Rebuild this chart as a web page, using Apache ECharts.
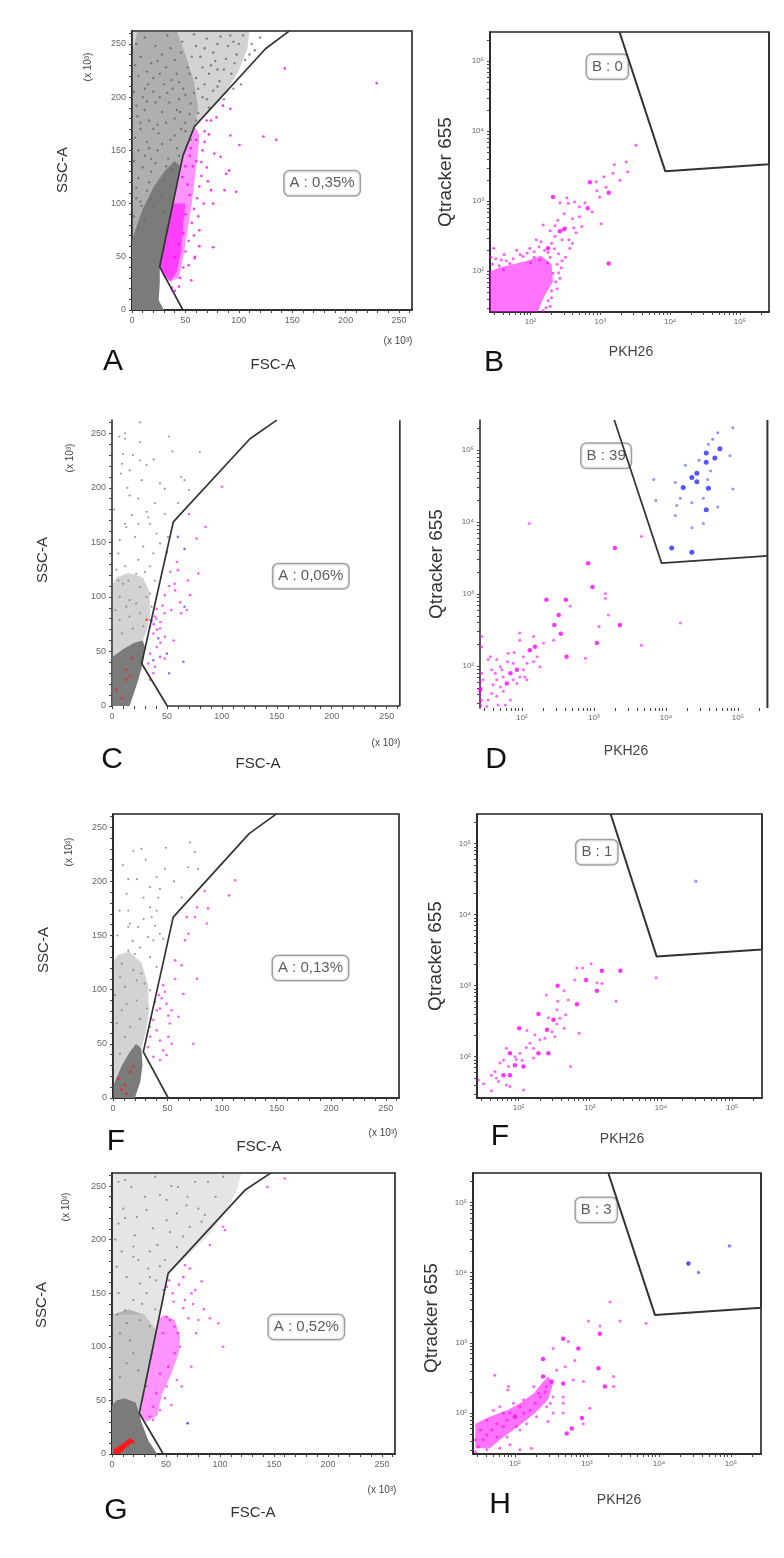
<!DOCTYPE html>
<html><head><meta charset="utf-8">
<script src="https://cdn.jsdelivr.net/npm/echarts@6/dist/echarts.min.js"></script>
<style>html,body{margin:0;padding:0;background:#fff}#c{width:784px;height:1558px}</style>
</head><body><div id="c"></div>
<script>
// ---------- axis ticks ----------
const linTicks = [0, 50, 100, 150, 200, 250];
const logTickExp = [2, 3, 4, 5];
const logTickLabels = ['10²', '10³', '10⁴', '10⁵'];
const LIN_MAX = 262.144, LOG_MIN = 1.418, LOG_MAX = 5.418;

// ---------- Panel A (FSC-A / SSC-A, x10^3) ----------
const aGrayOuter = [[0,0],[26,40],[47.7,145],[58.6,172.6],[88,205],[100,225],[108,245],[110,262],[0,262]];
const aGrayMid = [[0,60],[26,40],[47.7,145],[58.6,172.6],[62,190],[58,215],[50,240],[42,262],[5,262],[0,240]];
const aGrayCore = [[0,0],[30,0],[25,9],[26,25],[26,40],[30,60],[34,80],[38,100],[42,120],[45,135],[40,140],[30,130],[20,115],[10,95],[3,75],[0,65]];
const aGrayDots = [[4,250],[12,256],[22,248],[33,258],[47,252],[58,259],[70,255],[83,257],[95,252],[104,258],[112,250],[120,256],[8,238],[18,232],[28,240],[40,235],[52,228],[64,238],[76,242],[88,236],[98,240],[106,235],[6,220],[15,212],[26,222],[37,216],[48,208],[60,218],[72,222],[82,215],[93,222],[10,200],[22,195],[33,204],[44,198],[55,194],[66,200],[76,206],[86,198],[5,182],[16,178],[28,186],[40,180],[50,176],[62,185],[72,190],[3,162],[14,158],[25,166],[36,160],[46,170],[55,160],[2,140],[12,145],[24,150],[34,142],[42,152],[6,124],[18,130],[30,122],[4,105],[14,112],[2,88],[9,98],[60,248],[74,230],[90,248],[115,244],[102,212],[95,208],[80,226],[68,212],[58,204],[42,222],[30,212],[20,205],[12,188],[35,195],[45,186],[24,174],[8,170],[18,142],[38,132],[28,108],[20,98],[12,84],[6,76],
  [3,230],[14,224],[24,234],[36,246],[46,242],[56,238],[68,246],[80,250],[92,258],[100,250],[110,240],[2,205],[12,208],[20,218],[32,228],[44,214],[54,222],[66,228],[78,234],[86,226],[96,232],[4,192],[14,196],[26,200],[38,208],[50,202],[62,208],[70,198],[80,210],[8,176],[20,170],[32,176],[42,188],[54,184],[60,178],[6,150],[16,152],[28,156],[40,164],[50,168],[10,134],[22,138],[32,135],[44,145],[4,115],[16,120],[26,112],[36,118],[8,102],[18,104],[30,92]];
const aMagBand = [[26,40],[36,27],[44,30],[48,50],[52,75],[56,100],[59,125],[62,150],[63,165],[58.6,172.6],[47.7,145],[38.3,100],[32,70]];
const aMagDense = [[26,40],[30,30],[36,27],[42,36],[46,55],[48,80],[50,100],[38.3,100],[32,70]];
const aMagDots = [[143,227],[229,213],[123,163],[135,160],[100.6,155],[92,164],[92,189],[91,131],[88,128],[97.5,111],[86.6,112.6],[74,112.6],[76,100],[76,59],[58.6,48.5],[55.5,28],[63,75],[65,139],[83,144],[77,147],[79,181],[74,178],[45,30],[48,40],[50,55],[53,65],[56,82],[58,95],[61,105],[63,116],[65,126],[60,140],[66,150],[68,158],[60,160],[55,152],[57,135],[70,134],[71,121],[67,100],[62,88],[58,70],[63,60],[59,50],[53,42],[44,22],[40,18],[37,21],[70,178],[85,192],[68,168],[72,165],[52,118],[54,108],[50,90],[48,72],[44,62],[40,50],[47,125],[50,135],[54,145]];
const aGate = [[147,262],[125,245.5],[58.6,172.6],[47.7,145],[25.9,40.6],[47.7,0]];
const aTagPos = [178, 119];
const aTagText = 'A : 0,35%';

// ---------- Panel B (PKH26 / Qtracker 655, log10) ----------
const bMagCluster = [[1.418,1.418],[2.10,1.418],[2.20,1.65],[2.32,1.85],[2.30,2.10],[2.15,2.22],[1.95,2.15],[1.75,2.10],[1.55,2.05],[1.418,2.00]];
const bMagDots = [[3.51,3.80],[3.37,3.56],[3.20,3.52],[3.39,3.42],[3.28,3.30],[2.94,3.28],[2.99,3.06],[2.63,2.99],[2.54,2.97],[2.42,2.98],[2.70,2.78],[2.73,2.64],[3.01,2.68],[2.39,2.73],[2.56,2.33],[2.18,2.66],[2.08,2.45],[1.99,2.33],[1.47,2.33],[2.32,1.97],[2.13,2.16],[1.89,2.21],[1.70,2.11],[1.61,2.02],[2.60,2.75],[2.50,2.62],[2.35,2.50],[2.45,2.45],[2.30,2.40],[2.20,2.30],[2.15,2.42],[2.28,2.20],[2.40,2.25],[2.05,2.20],[2.65,2.55],[2.55,2.45],[2.88,2.85],[2.78,2.98],[2.70,2.92],[2.95,3.15],[3.05,3.35],[3.18,3.40],[2.62,2.62],[2.48,2.82],[2.35,2.65],[2.52,3.05],[1.45,2.10],[1.55,2.08],[1.65,2.15],[1.75,2.18],[1.85,2.24],[2.05,2.28],[2.25,2.27],[2.38,2.10],[2.40,1.98],[2.36,1.85],[2.30,1.72],[2.25,1.58],[2.22,1.48],[2.45,2.15],[2.50,2.20],[2.60,2.40],[2.28,2.58],[3.08,3.20],
  [1.50,2.18],[1.62,2.24],[1.80,2.30],[1.95,2.26],[2.12,2.35],[2.34,2.32],[2.44,2.05],[2.42,1.90],[2.38,1.75],[2.30,1.62],[2.28,1.50],[2.18,1.44],[1.43,2.20],[1.58,2.16],[2.00,2.12],[2.24,2.12]];
const bMagBig = [[2.85,3.27],[3.12,3.12],[2.82,2.90],[2.32,3.06],[2.42,2.57],[2.25,2.33],[3.12,2.11],[2.48,2.60]];
const bGate = [[3.275,5.418],[3.93,3.43],[5.418,3.53],[5.418,5.418]];
const bTagPos = [3.10, 4.92];
const bTagText = 'B : 0';

// ---------- Panel C ----------
const cGrayHalo = [[0,40],[10,52],[20,58],[28,60],[32,70],[35,85],[34,105],[28,118],[15,122],[4,118],[0,110]];
const cGrayCore = [[0.5,0],[16,0],[24,24],[28,39],[30,54],[28,60],[20,58],[10,52],[0.5,45]];
const cGrayDots = [[25.5,260],[12,250],[12,245],[25.5,225],[10,231],[19,230],[25.5,242],[52,247],[55,233.5],[80,233],[9,222],[63,210],[66,207],[70,198],[48,199],[24,190],[16,193],[27,207],[8,213],[31.5,178],[33,173],[34.6,167],[40.6,158],[43.7,149],[37.6,140],[28.5,146],[21,155],[13,164],[7,152],[5.8,140],[12,128],[24,134],[34.6,128],[39,115],[25.5,109],[16,97],[7,100],[10,112],[31.5,100],[36,91],[25.5,85],[16,82],[7,79],[28.5,73],[34.6,79],[43.7,204],[51,155],[48,176],[39,186],[6.7,247],[16,216],[31.5,221],[18,175],[12,167],[24,167],[15,115],[22,121],[30,123],[5.8,115],[13,91],[22,94],[34.6,103],[19,71],[9,66.5],[3,88],[4,125],[2,180],[14,200],[38,226],[60,186]];
const cRed = [[9,7],[13,33],[18,44],[13,24],[4,15],[16,27],[31.5,79]];
const cMag = [[85,164],[77,153.5],[50,141],[59,132],[53,123],[60,124.5],[78.5,121.5],[69,115],[57,112],[57.5,106],[48,101.6],[71,101.6],[40.6,89],[48,85],[54,88],[63,85],[68,88],[40.6,80],[43.7,71],[34.6,72.6],[48,63.5],[56,60],[37.6,66.5],[40.6,54],[34.6,48],[33,39],[39,36],[43.7,45],[37.6,30],[34.6,24],[48,43.6],[100,201],[70,176],[38,75],[36,78],[39,82],[41,70],[44,77],[46,92],[52,110],[62,95],[44,58]];
const cBlue = [[60,155],[66,144],[66,91],[42,62],[50,48],[52,30],[65,40.6],[37.6,42]];
const cGate = [[150,262],[125.6,245],[55.8,168.8],[27,39],[50.3,0],[262,0],[262,262]];
const cTagPos = [181, 119];
const cTagText = 'A : 0,06%';

// ---------- Panel D ----------
const dBlue = [[4.93,5.31],[4.72,5.24],[4.65,5.15],[4.59,5.08],[4.89,4.92],[4.46,4.86],[4.27,4.79],[4.62,4.71],[4.13,4.55],[3.83,4.59],[4.58,4.59],[4.93,4.46],[4.20,4.33],[3.86,4.30],[4.52,4.33],[4.15,4.23],[4.36,4.27],[4.72,4.21],[4.13,4.09],[4.52,3.98],[4.36,3.92]];
const dBlueBig = [[4.75,5.02],[4.56,4.96],[4.68,4.89],[4.56,4.83],[4.43,4.68],[4.36,4.62],[4.24,4.48],[4.43,4.56],[4.59,4.47],[4.56,4.17],[4.08,3.64],[4.36,3.58]];
const dMag = [[2.10,3.98],[3.66,3.80],[3.16,3.01],[3.16,2.94],[2.67,2.83],[3.20,2.71],[3.07,2.55],[2.16,2.41],[1.97,2.46],[3.66,2.29],[4.20,2.60],[2.88,2.11],[2.44,2.36],[2.30,2.32],[2.02,2.13],[2.07,2.04],[1.74,1.85],[1.65,1.81],[1.58,1.95],[1.44,1.53],[1.56,2.13],[1.65,2.09],[1.70,1.99],[1.88,2.04],[1.97,1.85],[1.93,1.76],[1.74,1.65],[1.65,1.58],[1.53,1.53],[1.84,1.53],[1.44,2.41],[1.44,2.27],[2.04,1.85],[2.21,2.13],[2.25,1.99],[2.07,1.81],[1.88,1.81],[1.70,1.71],[1.58,1.62],[1.97,2.36],[1.81,2.18],[1.72,1.95],[1.46,1.81],[1.44,1.90],[1.51,1.44],[1.67,1.46],[1.77,1.46],[1.53,2.09],[1.63,1.90],[2.02,1.95],[2.16,2.06],[1.80,2.06],[1.89,2.19],[1.60,1.74],[1.42,1.60],[1.42,1.50],[1.43,1.70],[1.42,1.78],[1.43,1.45]];
const dMagBig = [[3.29,3.64],[2.92,3.43],[2.98,3.10],[2.34,2.92],[2.61,2.92],[2.51,2.71],[2.45,2.57],[3.36,2.57],[2.54,2.45],[2.18,2.27],[3.04,2.32],[2.62,2.13],[2.11,2.22],[1.93,1.95],[1.84,1.90],[1.79,1.76],[1.42,1.67]];
const dGate = [[3.283,5.418],[3.94,3.43],[5.41,3.53]];
const dRightEdge = [[5.41,1.418],[5.41,5.418]];
const dTagPos = [3.17, 4.92];
const dTagText = 'B : 39';

// ---------- Panel E (third row, left, labelled F) ----------
const eGrayHalo = [[0,10],[8,30],[15,42],[21,50],[26,46],[30,60],[33,80],[32,105],[26,125],[15,135],[4,132],[0,125]];
const eGrayCore = [[0.5,0],[20,0],[25,15],[27,30],[26,46],[21,50],[15,42],[8,30],[3,18],[0.5,12]];
const eGrayDots = [[70.5,236],[48.5,231],[75,227],[26,230],[18.6,228],[22,202],[14,202],[40,204],[47.6,211.5],[69,213],[78,211.5],[34,194.6],[43,193],[63,185],[34,176],[28,165.4],[15.6,161],[14,173],[38.5,159],[43,151.6],[37,145.5],[24.7,139],[14,136],[34,130],[8,124],[18.6,118],[26,115],[40,121],[11,102.5],[21.7,90],[34,99.4],[8,81],[24.7,73],[15.6,65.7],[31,82.6],[11,56.5],[34,65.7],[3.4,68.8],[6.4,41],[14,158],[32,148.6],[20,133],[40,173],[41.5,185],[6,173],[12.5,188.5],[28,185],[21.7,108.6],[6.4,111.7],[12.5,87],[29,105.6],[46,147],[35.4,167],[23,158],[4,150],[2,95],[9,215],[30,220],[56,200],[18,145]];
const eRed = [[11,12],[12.5,4],[15.6,24],[5,18],[18.6,29],[8,8]];
const eMag = [[112,201],[106.5,187],[84,191],[87,175],[77,176],[75,167],[67.5,167],[86,161],[69,151.6],[66,145.5],[57,127],[62.8,122.5],[77,110],[57,110],[64.4,96],[44.6,92],[49,87],[40,81],[50.7,76],[60,75],[37,72],[40,62.6],[52,68.8],[34,56.5],[43,53],[50.7,56.5],[73.6,50],[32,47],[46,44],[53.7,50],[37,38],[49,39.6],[43,35],[35,73.4],[47.6,98],[43,82.6],[38.5,88.7],[53.7,81],[42,95],[46,104]];
const eGate = [[149.5,262],[124.8,244],[55.2,167],[27.8,42.6],[50.6,0]];
const eTagPos = [181, 120];
const eTagText = 'A : 0,13%';

// ---------- Panel F (third row, right) ----------
const fBlue = [[4.49,4.47]];
const fMag = [[3.02,3.31],[2.82,3.25],[2.90,3.25],[2.79,3.08],[3.10,3.04],[3.17,3.03],[2.64,2.93],[2.39,2.87],[2.55,2.78],[2.70,2.80],[3.37,2.78],[3.93,3.11],[2.42,2.55],[2.54,2.66],[2.66,2.59],[2.54,2.46],[2.64,2.40],[2.12,2.37],[2.23,2.31],[2.30,2.24],[2.51,2.28],[2.85,2.33],[2.21,2.12],[2.11,2.13],[2.02,2.05],[1.79,1.95],[1.97,1.96],[1.86,1.86],[1.74,1.91],[1.67,1.79],[1.62,1.74],[1.72,1.65],[1.62,1.52],[2.07,1.53],[2.73,1.86],[1.88,1.58],[1.51,1.62],[1.44,1.67],[1.83,2.12],[2.16,2.19],[2.05,1.95],[1.69,1.70],[1.83,1.60],[1.95,2.00],[2.21,1.98],[2.58,2.54],[2.37,2.26],[2.47,2.35]];
const fMagBig = [[3.17,3.21],[3.43,3.21],[2.95,3.08],[3.10,2.93],[2.55,3.00],[2.82,2.74],[2.28,2.60],[2.49,2.52],[2.01,2.40],[2.40,2.38],[2.28,2.05],[2.42,2.05],[1.88,2.05],[1.95,1.88],[2.07,1.86],[1.79,1.74],[1.88,1.74]];
const fGate = [[3.294,5.418],[3.94,3.41],[5.418,3.51],[5.418,5.418]];
const fTagPos = [3.10, 4.88];
const fTagText = 'B : 1';

// ---------- Panel G ----------
const gGrayUpper = [[0,130],[30,130],[41.1,115],[47,140],[52,168.5],[70,185],[90,205],[105,225],[115,245],[120,262],[0,262]];
const gGrayHalo = [[0,40],[12,52],[22,48],[25.3,38],[30.5,63],[34,78],[38,95],[41.1,115],[36,122],[30,130],[15,135],[0,130]];
const gGrayCore = [[0,0],[42,0],[34,12],[27,30],[25.3,38],[22,48],[12,52],[4,50],[0,45]];
const gRedCore = [[1,0],[7,0],[14,7],[21,12],[17,15],[9,9],[2,5]];
const gRed = [[14,8.4],[9,5],[19.8,11.5],[4.3,2]];
const gGrayDots = [[6,254],[12,255.6],[10.5,229],[12,220],[32,227.6],[44.4,241.6],[50.6,237],[61,249],[77,254],[89,254],[103,258.7],[69,232],[80,229],[86,223],[83,216.7],[50.6,218],[38,210.5],[21,204],[9,189],[19.8,184],[35,189],[49,181],[60,193],[66,203],[33.6,173],[35,165],[26,159],[13.6,165],[6,150],[19.8,143.7],[32,150],[12,134],[26,125],[35,119],[7.4,112.6],[16.7,106],[41,162],[47.5,153],[35,87.7],[13.6,84.6],[24.4,78],[7.4,72],[32,63],[19.8,94],[13.6,122],[44.4,175],[23,221],[6,215],[30.6,240],[40,258.7],[18,249],[60,224.5],[53.7,207],[72,212],[19.8,193.5],[4.3,174.8],[24.4,181],[28,140],[40,135],[5,130],[3,200],[55,250],[96,240],[70,240],[42,195]];
const gMagBand = [[26,36],[32,30],[42,36],[46,55],[55,75],[62,95],[63,110],[58,125],[48,130],[43.5,126],[38,100],[30.5,63]];
const gMag = [[160,257],[144,249],[103,212],[104.6,209],[90.7,195],[67.6,176],[72,173],[66,165],[83,161],[77,153],[73.5,150],[57,142],[66,136],[70.7,126.6],[50.6,128],[80,125],[90.7,126.6],[98.5,122],[103,100],[73.5,81.5],[60,69],[64.5,63],[44.4,41],[49,52],[55,45.7],[58,94],[63,100],[38,44],[35,35],[53.7,125],[47.5,112.6],[61,112.6],[58,119],[67.6,143.7],[51,156],[53,162],[78,112.6],[44.4,75],[52,81.5],[50.6,63],[41,56.6],[38,31.7],[56,150],[62,158],[75,140],[85,135]];
const gBlue = [[70,28.6]];
const gGate = [[146.9,262],[123,246],[52,168.5],[25.3,38],[47.5,0]];
const gTagPos = [180, 118.5];
const gTagText = 'A : 0,52%';

// ---------- Panel H ----------
const hMagBand = [[1.45,1.50],[1.45,1.85],[1.65,1.95],[1.89,2.04],[2.07,2.14],[2.26,2.28],[2.37,2.42],[2.46,2.52],[2.53,2.42],[2.46,2.19],[2.28,2.00],[2.07,1.83],[1.84,1.66],[1.65,1.50]];
const hMag = [[3.32,3.58],[3.82,3.28],[3.46,3.31],[3.02,3.31],[3.18,3.24],[2.74,3.02],[2.53,2.92],[2.83,2.75],[2.70,2.66],[2.58,2.61],[3.37,2.52],[3.37,2.38],[2.81,2.47],[2.95,2.45],[2.67,2.23],[2.67,2.14],[3.04,2.07],[2.95,1.85],[2.46,1.88],[2.23,1.50],[2.07,1.48],[1.72,2.54],[1.91,2.38],[1.90,2.33],[1.79,2.09],[2.44,2.38],[2.53,2.23],[2.49,2.14],[2.35,2.23],[2.28,2.14],[2.21,2.04],[2.12,2.00],[2.07,2.09],[1.93,2.00],[1.89,1.90],[1.84,1.81],[1.75,1.85],[1.68,1.76],[1.61,1.69],[1.56,1.62],[1.49,1.52],[1.45,1.45],[1.61,1.48],[1.79,1.50],[1.93,1.55],[1.89,1.66],[1.75,1.66],[2.07,1.76],[2.16,1.85],[2.30,1.95],[2.33,2.28],[2.42,2.30],[2.26,2.38],[2.44,2.09],[2.53,2.00],[2.67,2.00],[2.12,2.19],[1.98,2.14],[1.61,1.90],[1.52,1.76],[1.45,1.62],[1.70,2.04],[1.84,2.00],[2.02,1.81]];
const hMagBig = [[3.18,3.13],[2.67,3.06],[2.88,2.92],[2.39,2.77],[3.16,2.64],[2.67,2.42],[3.25,2.38],[2.93,1.93],[2.79,1.78],[2.72,1.71],[2.39,2.52],[2.51,2.45],[2.00,1.95]];
const hBlue = [[4.98,4.38],[4.55,4.00]];
const hBlueBig = [[4.41,4.13]];
const hGate = [[3.297,5.418],[3.946,3.395],[5.418,3.5],[5.418,5.418]];
const hTagPos = [3.13, 4.89];
const hTagText = 'B : 3';

// ---------- layout ----------
const FONT = '"Liberation Sans", Arial, sans-serif';
const GRAY = '#6a6a6a', MAG = '#ff00ff', BLUE = '#2b2bff', RED = '#ff1a1a';
const panels = [
  {kind:'lin', left:132, top:31,  width:280, height:279, box:true,  xLine:true},
  {kind:'log', left:490, top:32,  width:279, height:280, box:true,  xLine:true},
  {kind:'lin', left:112, top:420, width:288, height:286, box:false, xLine:false},
  {kind:'log', left:480, top:420, width:288, height:288, box:false, xLine:false},
  {kind:'lin', left:113, top:814, width:286, height:284, box:true,  xLine:true},
  {kind:'log', left:477, top:814, width:285, height:284, box:true,  xLine:true},
  {kind:'lin', left:112, top:1173,width:283, height:281, box:true,  xLine:true},
  {kind:'log', left:473, top:1173,width:288, height:281, box:true,  xLine:true}
];

const linTickPos = []; for (let v = 0; v <= 260; v += 10) linTickPos.push(v);
const logTickPos = [];
for (let n = 1; n <= 5; n++) for (let k = 1; k <= 9; k++) {
  const v = n + Math.log10(k);
  if (v >= LOG_MIN && v <= LOG_MAX) logTickPos.push(v);
}

function makeAxis(p, i, dir) {
  const lin = p.kind === 'lin';
  const showLine = dir === 'y' ? true : p.xLine;
  return {
    gridIndex: i, type: 'value',
    min: lin ? 0 : LOG_MIN, max: lin ? LIN_MAX : LOG_MAX,
    axisLine: {show: showLine, onZero: false, lineStyle: {color: '#222', width: 1.5}},
    axisTick: {show: true, length: 3, customValues: lin ? linTickPos : logTickPos, lineStyle: {color: '#444', width: 1}},
    axisLabel: {
      customValues: lin ? linTicks : logTickExp,
      formatter: lin ? (v => String(v)) : (v => logTickLabels[logTickExp.indexOf(Math.round(v))]),
      fontFamily: FONT, fontSize: lin ? 9 : 8, color: '#666', margin: 6
    },
    splitLine: {show: false}
  };
}

const grid = panels.map(p => ({left: p.left, top: p.top, width: p.width, height: p.height,
  show: p.box, borderColor: '#222', borderWidth: 1.6, backgroundColor: 'transparent', containLabel: false}));
const xAxis = panels.map((p, i) => makeAxis(p, i, 'x'));
const yAxis = panels.map((p, i) => makeAxis(p, i, 'y'));

const series = [];
function poly(i, pts, fill, z) {
  series.push({type: 'custom', xAxisIndex: i, yAxisIndex: i, data: [pts[0]], clip: true, silent: true, z: z || 1,
    renderItem: (params, api) => ({type: 'polygon', shape: {points: pts.map(q => api.coord(q))}, style: {fill: fill}})});
}
function dots(i, pts, color, size, z) {
  series.push({type: 'scatter', xAxisIndex: i, yAxisIndex: i, data: pts, symbolSize: size, silent: true, z: z || 2,
    itemStyle: {color: color}, clip: true});
}
function gate(i, pts, w) {
  series.push({type: 'line', xAxisIndex: i, yAxisIndex: i, data: pts, symbol: 'none', silent: true, z: 5, clip: false,
    lineStyle: {color: '#333', width: w || 1.7}});
}
function tag(i, pos, text) {
  series.push({type: 'scatter', xAxisIndex: i, yAxisIndex: i, data: [pos], symbolSize: 1, silent: true, z: 4,
    itemStyle: {color: 'rgba(0,0,0,0)'},
    label: {show: true, position: 'inside', formatter: text, fontFamily: FONT, fontSize: 15, color: '#333',
      backgroundColor: '#fff', borderColor: '#888', borderWidth: 1.5, borderRadius: 5, padding: [5, 5, 4, 5]}});
}

// A
poly(0, aGrayOuter, 'rgba(110,110,110,0.30)');
poly(0, aGrayMid, 'rgba(110,110,110,0.35)');
poly(0, aGrayCore, '#7b7b7b');
dots(0, aGrayDots, GRAY, 2.4);
poly(0, aMagBand, 'rgba(255,0,255,0.42)');
poly(0, aMagDense, 'rgba(255,0,255,0.58)');
dots(0, aMagDots, MAG, 2.6, 3);
gate(0, aGate);
tag(0, aTagPos, aTagText);
// B
poly(1, bMagCluster, 'rgba(255,0,255,0.55)');
dots(1, bMagDots, 'rgba(255,0,255,0.8)', 3, 3);
dots(1, bMagBig, MAG, 4.5, 3);
gate(1, bGate, 2);
tag(1, bTagPos, bTagText);
// C
poly(2, cGrayHalo, 'rgba(110,110,110,0.30)');
poly(2, cGrayCore, '#7b7b7b');
dots(2, cGrayDots, '#858585', 2.2);
dots(2, cRed, RED, 2.6, 3);
dots(2, cMag, 'rgba(255,0,255,0.8)', 2.6, 3);
dots(2, cBlue, 'rgba(60,60,255,0.85)', 2.6, 3);
gate(2, cGate);
tag(2, cTagPos, cTagText);
// D
dots(3, dMag, 'rgba(255,0,255,0.75)', 3, 3);
dots(3, dMagBig, MAG, 4.5, 3);
dots(3, dBlue, 'rgba(60,60,255,0.7)', 3, 3);
dots(3, dBlueBig, BLUE, 5, 3);
gate(3, dGate);
gate(3, dRightEdge, 2);
tag(3, dTagPos, dTagText);
// E
poly(4, eGrayHalo, 'rgba(110,110,110,0.30)');
poly(4, eGrayCore, '#7b7b7b');
dots(4, eGrayDots, '#858585', 2.2);
dots(4, eRed, RED, 2.6, 3);
dots(4, eMag, 'rgba(255,0,255,0.8)', 2.6, 3);
gate(4, eGate);
tag(4, eTagPos, eTagText);
// F
dots(5, fMag, 'rgba(255,0,255,0.75)', 3, 3);
dots(5, fMagBig, MAG, 4.5, 3);
dots(5, fBlue, 'rgba(80,80,255,0.7)', 3.5, 3);
gate(5, fGate, 2);
tag(5, fTagPos, fTagText);
// G
poly(6, gGrayUpper, 'rgba(110,110,110,0.18)');
poly(6, gGrayHalo, 'rgba(110,110,110,0.40)');
poly(6, gGrayCore, '#7b7b7b');
dots(6, gGrayDots, '#7a7a7a', 2.2);
poly(6, gRedCore, RED, 3);
dots(6, gRed, RED, 3, 3);
poly(6, gMagBand, 'rgba(255,0,255,0.42)');
dots(6, gMag, 'rgba(255,0,255,0.8)', 2.6, 3);
dots(6, gBlue, BLUE, 2.6, 3);
gate(6, gGate);
tag(6, gTagPos, gTagText);
// H
poly(7, hMagBand, 'rgba(255,0,255,0.55)');
dots(7, hMag, 'rgba(255,0,255,0.75)', 3, 3);
dots(7, hMagBig, MAG, 4.5, 3);
dots(7, hBlue, 'rgba(60,60,255,0.8)', 3.5, 3);
dots(7, hBlueBig, BLUE, 4.5, 3);
gate(7, hGate, 2);
tag(7, hTagPos, hTagText);

// ---------- text labels ----------
const texts = [
  // [text, x, y, fontSize, rotated, color]
  ['A', 113, 362, 30, false, '#111'], ['FSC-A', 273, 365, 15, false, '#333'], ['(x 10³)', 398, 341, 10, false, '#444'],
  ['SSC-A', 63, 170, 15, true, '#333'], ['(x 10³)', 88, 67, 10, true, '#444'],
  ['B', 494, 363, 30, false, '#111'], ['PKH26', 631, 352, 14, false, '#444'], ['Qtracker 655', 446, 172, 19, true, '#333'],

  ['C', 112, 760, 30, false, '#111'], ['FSC-A', 258, 764, 15, false, '#333'], ['(x 10³)', 386, 743, 10, false, '#444'],
  ['SSC-A', 43, 560, 15, true, '#333'], ['(x 10³)', 70, 458, 10, true, '#444'],
  ['D', 496, 760, 30, false, '#111'], ['PKH26', 626, 751, 14, false, '#444'], ['Qtracker 655', 437, 564, 19, true, '#333'],

  ['F', 116, 1142, 30, false, '#111'], ['FSC-A', 259, 1147, 15, false, '#333'], ['(x 10³)', 383, 1133, 10, false, '#444'],
  ['SSC-A', 44, 950, 15, true, '#333'], ['(x 10³)', 69, 852, 10, true, '#444'],
  ['F', 500, 1137, 30, false, '#111'], ['PKH26', 622, 1139, 14, false, '#444'], ['Qtracker 655', 436, 956, 19, true, '#333'],

  ['G', 116, 1511, 30, false, '#111'], ['FSC-A', 253, 1513, 15, false, '#333'], ['(x 10³)', 382, 1490, 10, false, '#444'],
  ['SSC-A', 42, 1305, 15, true, '#333'], ['(x 10³)', 66, 1207, 10, true, '#444'],
  ['H', 500, 1505, 30, false, '#111'], ['PKH26', 619, 1500, 14, false, '#444'], ['Qtracker 655', 432, 1318, 19, true, '#333']
];
const graphic = texts.map(t => ({
  type: 'text', x: t[1], y: t[2], rotation: t[4] ? Math.PI / 2 : 0, silent: true, z: 10,
  style: {text: t[0], fontSize: t[3], fontFamily: FONT, fill: t[5], textAlign: 'center', textVerticalAlign: 'middle'}
}));

const chart = echarts.init(document.getElementById('c'), null, {renderer: 'canvas'});
chart.setOption({animation: false, backgroundColor: '#fff', grid, xAxis, yAxis, series, graphic});
</script></body></html>
